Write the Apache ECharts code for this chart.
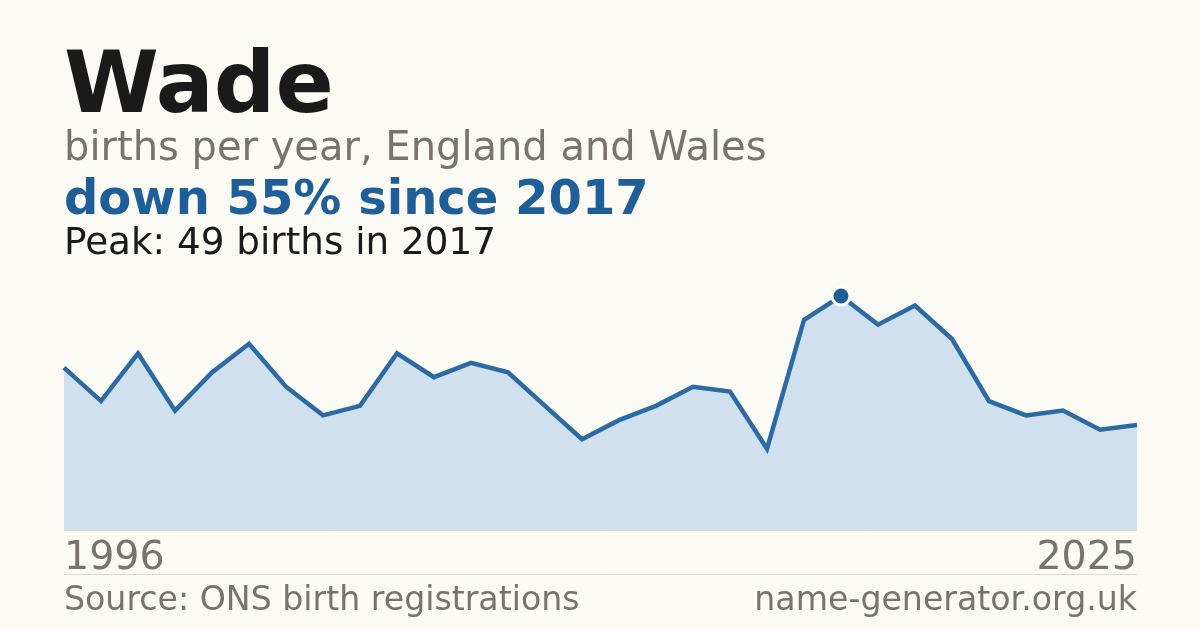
<!DOCTYPE html>
<html><head><meta charset="utf-8">
<script src="https://cdn.jsdelivr.net/npm/echarts@6/dist/echarts.min.js"></script>
<style>html,body{margin:0;padding:0;background:#fbfaf5}#c{width:1200px;height:630px}</style>
</head><body><div id="c"></div>
<script>
const years = [1996,1997,1998,1999,2000,2001,2002,2003,2004,2005,2006,2007,2008,2009,2010,2011,2012,2013,2014,2015,2016,2017,2018,2019,2020,2021,2022,2023,2024,2025];
const births = [34,27,37,25,33,39,30,24,26,37,32,35,33,26,19,23,26,30,29,17,44,49,43,47,40,27,24,25,21,22];
const titleText = 'Wade';
const subtitleText = 'births per year, England and Wales';
const changeText = 'down 55% since 2017';
const peakText = 'Peak: 49 births in 2017';
const sourceText = 'Source: ONS birth registrations';
const siteText = 'name-generator.org.uk';

const peakValue = Math.max(...births);
const peakIndex = births.indexOf(peakValue);
const FONT = '"DejaVu Sans", sans-serif';

const chart = echarts.init(document.getElementById('c'));
chart.setOption({
  backgroundColor: '#fbfaf5',
  animation: false,
  grid: {left: 64, right: 63, top: 296, bottom: 100},
  xAxis: {
    type: 'category', data: years.map(String), boundaryGap: false,
    axisLine: {show: true, lineStyle: {color: '#ddd7ce', width: 1}},
    axisTick: {show: false},
    splitLine: {show: false},
    axisLabel: {
      show: true,
      interval: (i) => i === 0 || i === years.length - 1,
      color: '#78736c', fontFamily: FONT, fontSize: 39.5, margin: 9,
      alignMinLabel: 'left', alignMaxLabel: 'right'
    }
  },
  yAxis: {type: 'value', min: 0, max: peakValue, show: false, splitLine: {show: false}},
  series: [
    {
      type: 'line', data: births, showSymbol: false, symbol: 'none',
      lineStyle: {color: '#2b6aa3', width: 4.5, join: 'miter'},
      areaStyle: {color: '#d0e0ef', opacity: 1},
      z: 2
    },
    {
      type: 'scatter', data: [[peakIndex, peakValue]], symbol: 'circle', symbolSize: 18,
      itemStyle: {color: '#1f5f99', borderColor: '#ffffff', borderWidth: 3, opacity: 1},
      z: 3
    }
  ],
  graphic: [
    {type: 'text', left: 64, top: 47, style: {text: titleText, font: 'bold 86px ' + FONT, fill: '#1a1a1a'}},
    {type: 'text', left: 64, top: 130, style: {text: subtitleText, font: '40px ' + FONT, fill: '#78736c'}},
    {type: 'text', left: 64, top: 178, style: {text: changeText, font: 'bold 48px ' + FONT, fill: '#1f5f99'}},
    {type: 'text', left: 64, top: 226, style: {text: peakText, font: '37.3px ' + FONT, fill: '#1a1a1a'}},
    {type: 'line', shape: {x1: 64, y1: 574.5, x2: 1137, y2: 574.5}, style: {stroke: '#ddd7ce', lineWidth: 1}},
    {type: 'text', left: 64, top: 585, style: {text: sourceText, font: '33.2px ' + FONT, fill: '#78736c'}},
    {type: 'text', right: 63, top: 585, style: {text: siteText, font: '33.2px ' + FONT, fill: '#78736c'}}
  ]
});
</script></body></html>
